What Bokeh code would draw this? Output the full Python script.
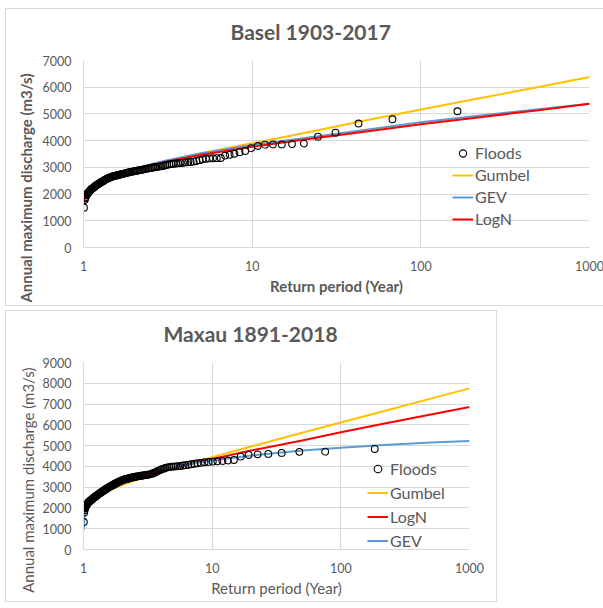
from bokeh.plotting import figure
from bokeh.models import (Range1d, FixedTicker, Legend, LegendItem, Title,
                          BasicTickFormatter)
from bokeh.layouts import column
from bokeh.embed import file_html
from bokeh.resources import INLINE

# ---------------- data ----------------
x_ticks = [1, 10, 100, 1000]
basel_y_ticks = [0, 1000, 2000, 3000, 4000, 5000, 6000, 7000]
maxau_y_ticks = [0, 1000, 2000, 3000, 4000, 5000, 6000, 7000, 8000, 9000]

# Basel 1903-2017: observed annual maxima (return period in years, discharge m3/s)
basel_T = [164.86, 67.88, 42.74, 31.19, 24.55, 20.25, 17.22, 14.98, 13.26, 11.90,
           10.79, 9.86, 9.09, 8.42, 7.85, 7.35, 6.91, 6.52, 6.17, 5.86,
           5.58, 5.32, 5.08, 4.87, 4.67, 4.49, 4.32, 4.17, 4.02, 3.89,
           3.76, 3.64, 3.53, 3.42, 3.33, 3.23, 3.14, 3.06, 2.98, 2.91,
           2.84, 2.77, 2.70, 2.64, 2.58, 2.53, 2.47, 2.42, 2.37, 2.32,
           2.28, 2.23, 2.19, 2.15, 2.11, 2.07, 2.04, 2.00, 1.97, 1.93,
           1.90, 1.87, 1.84, 1.81, 1.78, 1.76, 1.73, 1.70, 1.68, 1.66,
           1.63, 1.61, 1.59, 1.57, 1.55, 1.52, 1.50, 1.49, 1.47, 1.45,
           1.43, 1.41, 1.40, 1.38, 1.36, 1.35, 1.33, 1.32, 1.30, 1.29,
           1.27, 1.26, 1.25, 1.23, 1.22, 1.21, 1.19, 1.18, 1.17, 1.16,
           1.15, 1.14, 1.12, 1.11, 1.10, 1.09, 1.08, 1.07, 1.06, 1.05,
           1.04, 1.03, 1.024, 1.015, 1.006]
basel_Q = [5100, 4800, 4640, 4300, 4150, 3890, 3870, 3860, 3860, 3850,
           3800, 3720, 3610, 3570, 3510, 3470, 3440, 3350, 3345, 3340,
           3335, 3320, 3300, 3270, 3240, 3215, 3205, 3195, 3185, 3175,
           3165, 3155, 3145, 3135, 3125, 3115, 3100, 3080, 3060, 3045,
           3035, 3025, 3015, 3005, 2995, 2985, 2970, 2960, 2945, 2935,
           2925, 2915, 2905, 2895, 2885, 2875, 2865, 2855, 2845, 2835,
           2825, 2815, 2805, 2795, 2785, 2775, 2765, 2755, 2745, 2735,
           2725, 2715, 2705, 2695, 2685, 2675, 2665, 2655, 2645, 2632,
           2618, 2604, 2590, 2575, 2560, 2540, 2520, 2500, 2480, 2465,
           2450, 2430, 2410, 2390, 2370, 2350, 2330, 2310, 2290, 2270,
           2250, 2225, 2200, 2175, 2150, 2120, 2090, 2060, 2030, 2000,
           1960, 1890, 1840, 1780, 1490]

# Maxau 1891-2018: observed annual maxima
maxau_T = [183.43, 75.53, 47.56, 34.70, 27.32, 22.53, 19.16, 16.68, 14.76, 13.24,
           12.00, 10.97, 10.11, 9.37, 8.73, 8.18, 7.69, 7.25, 6.87, 6.52,
           6.20, 5.92, 5.66, 5.42, 5.20, 5.00, 4.81, 4.64, 4.47, 4.32,
           4.18, 4.05, 3.93, 3.81, 3.70, 3.60, 3.50, 3.41, 3.32, 3.23,
           3.15, 3.08, 3.01, 2.94, 2.87, 2.81, 2.75, 2.69, 2.64, 2.58,
           2.53, 2.48, 2.44, 2.39, 2.35, 2.31, 2.26, 2.23, 2.19, 2.15,
           2.12, 2.08, 2.05, 2.02, 1.98, 1.95, 1.93, 1.90, 1.87, 1.84,
           1.82, 1.79, 1.77, 1.74, 1.72, 1.70, 1.67, 1.65, 1.63, 1.61,
           1.59, 1.57, 1.55, 1.53, 1.51, 1.50, 1.48, 1.46, 1.45, 1.43,
           1.416, 1.400, 1.385, 1.370, 1.356, 1.342, 1.328, 1.314, 1.301, 1.288,
           1.275, 1.263, 1.250, 1.238, 1.226, 1.215, 1.203, 1.192, 1.181, 1.171,
           1.160, 1.150, 1.139, 1.129, 1.119, 1.110, 1.100, 1.091, 1.082, 1.073,
           1.064, 1.055, 1.047, 1.038, 1.030, 1.021, 1.013, 1.006]
maxau_Q = [4840, 4710, 4700, 4650, 4600, 4580, 4550, 4470, 4310, 4280,
           4260, 4245, 4230, 4215, 4200, 4170, 4150, 4130, 4100, 4080,
           4060, 4040, 4020, 4010, 4000, 3990, 3980, 3965, 3950, 3920,
           3890, 3860, 3830, 3790, 3750, 3710, 3680, 3650, 3630, 3615,
           3600, 3590, 3580, 3570, 3560, 3550, 3540, 3530, 3520, 3510,
           3500, 3490, 3480, 3470, 3460, 3450, 3430, 3420, 3410, 3400,
           3385, 3370, 3355, 3340, 3320, 3300, 3290, 3270, 3250, 3230,
           3210, 3190, 3170, 3150, 3130, 3110, 3090, 3070, 3050, 3030,
           3010, 2990, 2970, 2950, 2930, 2910, 2890, 2870, 2850, 2830,
           2810, 2790, 2770, 2750, 2730, 2710, 2690, 2670, 2650, 2630,
           2610, 2590, 2570, 2550, 2530, 2510, 2490, 2470, 2450, 2430,
           2410, 2390, 2370, 2350, 2330, 2310, 2290, 2260, 2230, 2200,
           2170, 2130, 2090, 2040, 1980, 1900, 1780, 1320]

# fitted distributions, evaluated at these return periods
curve_T = [1.006, 1.02, 1.05, 1.1, 1.2, 1.5, 2, 3, 5, 10, 20, 50, 100, 200, 500, 1000]
basel_gumbel = [1880, 2020, 2155, 2280, 2435, 2690, 2935, 3220, 3530, 3900, 4280, 4790, 5165, 5530, 6010, 6380]
basel_gev = [1750, 1950, 2120, 2270, 2440, 2710, 2950, 3240, 3530, 3840, 4090, 4430, 4690, 4900, 5180, 5380]
basel_logn = [1620, 1880, 2080, 2250, 2430, 2690, 2920, 3190, 3470, 3770, 4030, 4360, 4610, 4840, 5140, 5380]

maxau_gumbel = [1685, 1870, 2055, 2220, 2430, 2775, 3105, 3485, 3910, 4445, 4955, 5620, 6115, 6610, 7260, 7755]
maxau_logn = [1500, 1800, 2050, 2260, 2490, 2860, 3200, 3560, 3950, 4360, 4760, 5250, 5645, 6020, 6500, 6860]
maxau_gev = [950, 1700, 2060, 2310, 2540, 2930, 3280, 3650, 3990, 4280, 4520, 4760, 4900, 5020, 5150, 5220]

# ---------------- style ----------------
FONT = "Lato"
GRID = "#d9d9d9"
TXT = "#595959"
COLORS = {"Gumbel": "#FFC000", "GEV": "#5B9BD5", "LogN": "#FF0000"}
YLABEL = "Annual maximum discharge (m3/s)"


def make_panel(title, title_offset, width, height, mb, y_max, y_ticks,
               fT, fQ, curves, order, leg_loc, leg_h, leg_sp, bold,
               ylab_offset, ylab_standoff):
    p = figure(width=width, height=height, x_axis_type="log",
               x_range=Range1d(1, 1000), y_range=Range1d(0, y_max),
               output_backend="svg", toolbar_location=None,
               min_border_left=mb[0], min_border_right=mb[1],
               min_border_top=mb[2], min_border_bottom=mb[3],
               background_fill_color="white", border_fill_color="white",
               styles={"border": "1px solid #d9d9d9"})
    p.outline_line_color = None
    weight = "bold" if bold else "normal"

    p.title.text = title
    p.title.align = "left"
    p.title.offset = title_offset
    p.title.vertical_align = "top"
    p.title.text_font = FONT
    p.title.text_font_size = "21px"
    p.title.text_font_style = "bold"
    p.title.text_color = TXT
    p.title.standoff = 18
    p.title.padding = {"left": 0, "right": 0, "top": 0, "bottom": 6}

    p.xaxis.ticker = FixedTicker(ticks=x_ticks)
    p.xaxis.formatter = BasicTickFormatter()
    p.xgrid.ticker = FixedTicker(ticks=x_ticks)
    p.yaxis.ticker = FixedTicker(ticks=y_ticks)
    p.ygrid.ticker = FixedTicker(ticks=y_ticks)
    for ax in (p.xaxis, p.yaxis):
        ax.major_tick_line_color = None
        ax.minor_tick_line_color = None
        ax.major_tick_out = 0
        ax.major_tick_in = 0
        ax.axis_line_color = GRID
        ax.major_label_text_font = FONT
        ax.major_label_text_font_size = "12.5px"
        ax.major_label_text_color = TXT
    p.xaxis.major_label_standoff = 13
    p.yaxis.major_label_standoff = 12
    p.xgrid.grid_line_color = GRID
    p.ygrid.grid_line_color = GRID
    p.xaxis.axis_label = "Return period (Year)"
    p.xaxis.axis_label_text_font = FONT
    p.xaxis.axis_label_text_font_size = "15px"
    p.xaxis.axis_label_text_font_style = weight
    p.xaxis.axis_label_text_color = TXT
    p.xaxis.axis_label_standoff = 3

    # y-axis title: Excel places it off-centre, so use a side title
    p.add_layout(Title(text=YLABEL, align="right", offset=ylab_offset,
                       vertical_align="bottom", standoff=ylab_standoff,
                       text_font=FONT, text_font_size="15px",
                       text_font_style=weight, text_color=TXT), "left")

    rend = {}
    for name, vals in curves:
        rend[name] = p.line(curve_T, vals, line_color=COLORS[name], line_width=2)
    rend["Floods"] = p.scatter(fT, fQ, marker="circle", size=6.8,
                               fill_color=None, line_color="black", line_width=1.1)

    items = [LegendItem(label=k, renderers=[rend[k]]) for k in order]
    leg = Legend(items=items, location=leg_loc, border_line_color=None,
                 background_fill_alpha=0, padding=0, margin=0,
                 spacing=leg_sp, glyph_width=21, glyph_height=leg_h, label_height=leg_h,
                 label_standoff=2, label_text_font=FONT, label_text_font_size="16px",
                 label_text_color=TXT)
    p.add_layout(leg)
    return p


p1 = make_panel("Basel 1903-2017", 147, 612, 298, (77, 29, 51, 60), 7000, basel_y_ticks,
                basel_T, basel_Q,
                [("Gumbel", basel_gumbel), ("GEV", basel_gev), ("LogN", basel_logn)],
                ["Floods", "Gumbel", "GEV", "LogN"], (369, 19), 18, 3, True, 13, 10)

p2 = make_panel("Maxau 1891-2018", 80, 492, 292, (77, 28, 50, 54), 9000, maxau_y_ticks,
                maxau_T, maxau_Q,
                [("Gumbel", maxau_gumbel), ("LogN", maxau_logn), ("GEV", maxau_gev)],
                ["Floods", "Gumbel", "LogN", "GEV"], (284, -1), 19, 5, False, 5, 6)

layout = column(p1, p2, spacing=4, margin=(8, 0, 0, 5))
open("out.html", "w").write(file_html(layout, INLINE))
